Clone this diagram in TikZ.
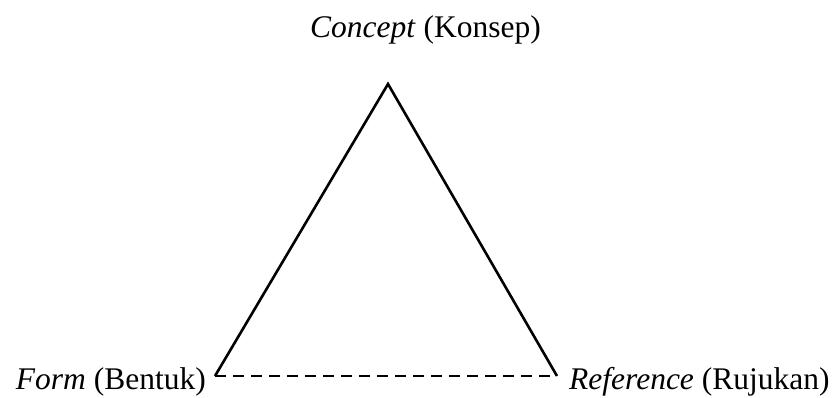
\documentclass[tikz,border=0pt]{standalone}
\usepackage{fontspec}
\setmainfont{Liberation Serif}
\usepackage{tikz}

\begin{document}
\begin{tikzpicture}[x=1pt,y=1pt,font=\fontsize{31.5}{36}\selectfont,
    side/.style={line width=2.6pt,line join=miter},
    gapline/.style={line width=2.6pt,dash pattern=on 11pt off 7pt},
    lbl/.style={inner sep=0pt}]
  \useasboundingbox (0,0) rectangle (837,398);
  \coordinate (top) at (388,314);
  \coordinate (fl) at (215,22);
  \coordinate (fr) at (557,22);
  \draw[side] (fl) -- (top) -- (fr);
  \draw[gapline] (fl) -- (fr);
  \node[lbl,anchor=base west] (concept) at (310,360) {\textit{Concept} (Konsep)};
  \node[lbl,anchor=base east] (form) at (206,8) {\textit{Form} (Bentuk)};
  \node[lbl,anchor=base west] (ref) at (569,8) {\textit{Reference} (Rujukan)};
\end{tikzpicture}
\end{document}
